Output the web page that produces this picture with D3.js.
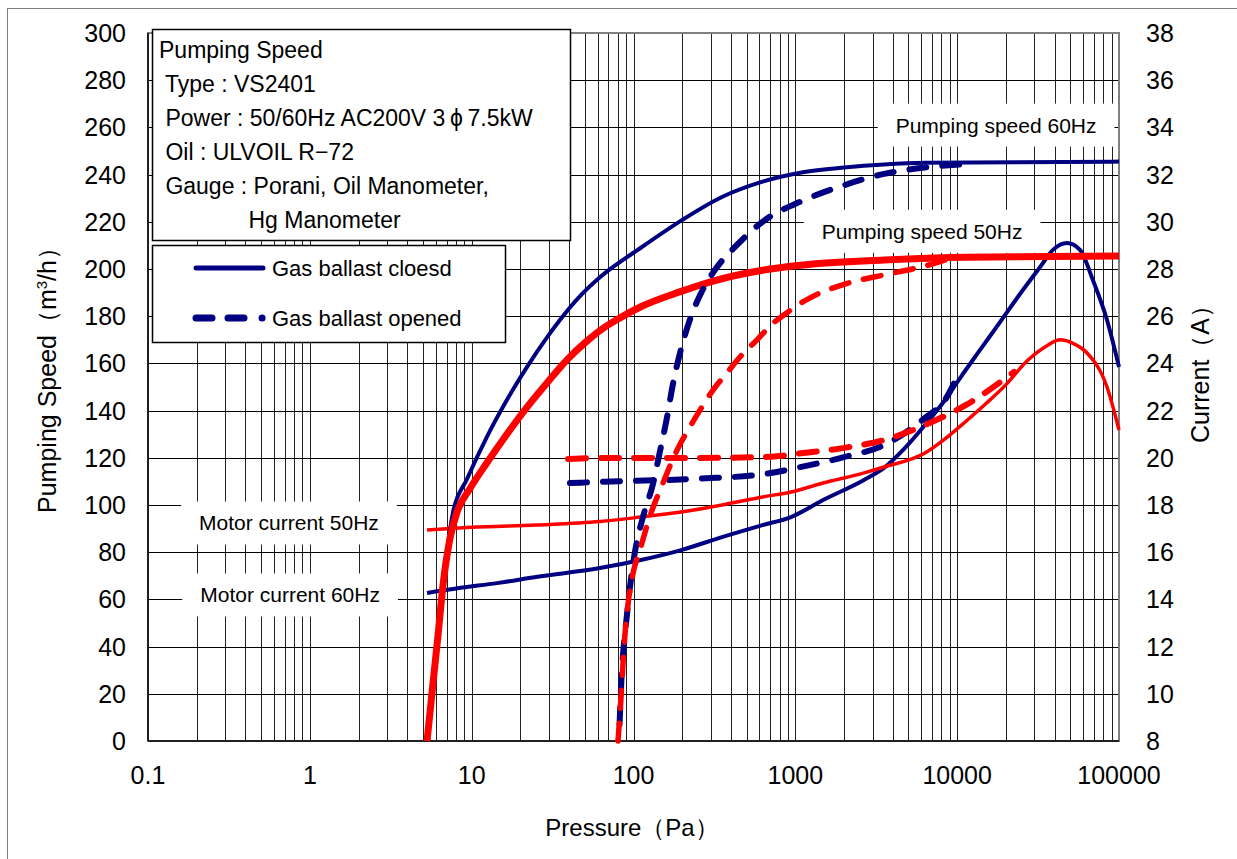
<!DOCTYPE html>
<html>
<head>
<meta charset="utf-8">
<script src="https://cdn.jsdelivr.net/npm/d3@7"></script>
<style>
	body { margin: 0; background: #fff; }
	svg { display: block; }
	text { font-family: "Liberation Sans", Arial, sans-serif; fill: #000; }
	.tick-label { font-size: 25px; }
	.axis-title { font-size: 24px; }
	.box-text { font-size: 23px; }
	.legend-text { font-size: 22px; }
	.label-text { font-size: 21px; }
</style>
</head>
<body>
<div id="chart"></div>
<script>
// pressure (Pa) / pumping speed (m3/h) pairs
const speed60Closed = [
	[5.3, 0], [5.9, 30], [6.5, 58], [7.1, 82], [7.67, 97], [9.36, 111], [12.4, 128.8], [16.5, 144.5],
	[22, 158.5], [29.2, 171], [35.2, 178.5], [46.7, 188.5], [62, 196.5], [111, 209], [197, 220.5],
	[352, 230.5], [627, 237], [1115, 241], [2000, 243], [3530, 244.3], [6325, 245], [100000, 245.5]
];
const speed60Opened = [
	[82, 7], [84.5, 28], [87.5, 42], [90, 50], [95, 65], [102, 80], [114.5, 95], [132, 109],
	[146, 123], [161, 137], [175, 151], [194, 164.5], [223, 178.5], [258, 189], [297, 196.5],
	[357, 204], [412, 208.5], [627, 220], [1115, 229], [2000, 235.5], [3530, 240.3], [6325, 243],
	[11340, 244.5]
];
const speed50Closed = [
	[5.3, 0], [5.8, 26], [6.2, 45], [6.65, 66], [7.35, 86], [8.12, 97], [9.77, 107], [12.4, 117.8],
	[16.5, 130], [22, 141.5], [29.2, 151.7], [38.8, 161.5], [51.6, 169.5], [68.6, 176], [82.6, 179.3],
	[111, 184], [197, 190.5], [314, 195], [627, 199.5], [1115, 201.7], [3530, 203.8], [11340, 205],
	[100000, 205.5]
];
const speed50Opened = [
	[80.2, 0], [84, 20], [87.4, 40], [92.5, 58], [100, 72], [109.6, 81], [126, 95], [152, 109.3],
	[186, 123.3], [223, 133], [258, 140.3], [310, 148.7], [378, 156], [455, 162.7], [580, 170],
	[728, 177], [889, 181.5], [1024, 184.5], [1250, 188], [2000, 193.5], [3530, 197.5],
	[5650, 200.5], [8410, 203.8], [8910, 204.5]
];
// pressure (Pa) / motor current (A) pairs
const current60Closed = [
	[5.3, 14.27], [8.35, 14.48], [14.35, 14.69], [25, 14.95], [62, 15.33], [111, 15.67], [197, 16.09],
	[352, 16.64], [627, 17.15], [940, 17.49], [1483, 18.21], [2657, 19.06], [3530, 19.57],
	[4763, 20.42], [6325, 21.39], [8410, 22.45], [10420, 23.38], [13850, 24.57], [18400, 25.75],
	[24440, 26.94], [32500, 28.08], [39100, 28.81], [47700, 29.1], [57400, 28.81], [69000, 27.53],
	[84300, 25.84], [100000, 23.85]
];
const current60Opened = [
	[40.5, 18.93], [62, 18.98], [258, 19.12], [627, 19.3], [1065, 19.6], [2000, 20.03],
	[3530, 20.54], [6325, 21.69], [8410, 22.45], [9980, 23.42]
];
const current50Closed = [
	[5.3, 16.94], [8.35, 17.03], [25, 17.15], [62, 17.3], [111, 17.49], [197, 17.7], [352, 18],
	[627, 18.34], [940, 18.55], [1483, 18.93], [2657, 19.36], [3530, 19.61], [6325, 20.2],
	[8410, 20.8], [11340, 21.55], [15080, 22.3], [20040, 23.1], [27000, 24.1], [35900, 24.75],
	[43200, 25.0], [52000, 24.85], [63500, 24.44], [84300, 23.0], [100000, 21.18]
];
const current50Opened = [
	[39.4, 19.95], [62, 19.99], [197, 19.99], [627, 20.03], [1115, 20.2], [2000, 20.42],
	[3530, 20.75], [6325, 21.39], [11340, 22.24], [22450, 23.64]
];

const xTicks = [0.1, 1, 10, 100, 1000, 10000, 100000];
const xTickLabels = ["0.1", "1", "10", "100", "1000", "10000", "100000"];
const leftTicks = d3.range(0, 301, 20);
const rightTicks = d3.range(8, 39, 2);
const infoLines = [
	"Pumping Speed",
	" Type : VS2401",
	" Power : 50/60Hz AC200V 3\u2009\u03d5\u20097.5kW",
	" Oil : ULVOIL R\u221272",
	" Gauge : Porani, Oil Manometer,",
	"              Hg Manometer"
];
const legendItems = ["Gas ballast cloesd", "Gas ballast opened"];
// annotation labels: [text, pressure, speed]
const annotations = [
	["Pumping speed 60Hz", 17400, 261],
	["Pumping speed 50Hz", 6070, 216],
	["Motor current 50Hz", 0.743, 92.4],
	["Motor current 60Hz", 0.755, 61.9]
];

const width = 1237, height = 859;
const plot = { left: 148, right: 1119, top: 33, bottom: 741 };
const navy = "#000080", red = "#ff0000";

const svg = d3.select("#chart").append("svg")
	.attr("width", width)
	.attr("height", height);

// outer chart frame
svg.append("rect")
	.attr("x", 7.5).attr("y", 8.5)
	.attr("width", width).attr("height", height)
	.attr("fill", "none")
	.attr("stroke", "#808080")
	.attr("stroke-width", 1);

const x = d3.scaleLog().domain([0.1, 100000]).range([plot.left, plot.right]);
const yL = d3.scaleLinear().domain([0, 300]).range([plot.bottom, plot.top]);
const yR = d3.scaleLinear().domain([8, 38]).range([plot.bottom, plot.top]);

// grid
const grid = svg.append("g");
const minorX = [];
for (let e = -1; e < 5; e++)
	for (let m = 1; m < 10; m++)
		minorX.push(m * Math.pow(10, e));
minorX.push(100000);
grid.selectAll("line.vx")
	.data(minorX)
	.enter().append("line")
	.attr("x1", d => Math.round(x(d)) + 0.5)
	.attr("x2", d => Math.round(x(d)) + 0.5)
	.attr("y1", plot.top).attr("y2", plot.bottom)
	.attr("stroke", "#222")
	.attr("stroke-width", 1);
grid.selectAll("line.hy")
	.data(leftTicks)
	.enter().append("line")
	.attr("x1", plot.left).attr("x2", plot.right)
	.attr("y1", d => Math.round(yL(d)) + 0.5)
	.attr("y2", d => Math.round(yL(d)) + 0.5)
	.attr("stroke", "#000")
	.attr("stroke-width", 1);

// plot border
svg.append("rect")
	.attr("x", plot.left).attr("y", plot.top)
	.attr("width", plot.right - plot.left)
	.attr("height", plot.bottom - plot.top)
	.attr("fill", "none")
	.attr("stroke", "#808080")
	.attr("stroke-width", 2);
svg.append("line")
	.attr("x1", plot.left).attr("x2", plot.left)
	.attr("y1", plot.top).attr("y2", plot.bottom)
	.attr("stroke", "#000").attr("stroke-width", 1.5);
svg.append("line")
	.attr("x1", plot.left).attr("x2", plot.right)
	.attr("y1", plot.bottom).attr("y2", plot.bottom)
	.attr("stroke", "#000").attr("stroke-width", 1.5);

// axes labels
svg.selectAll("text.yl")
	.data(leftTicks)
	.enter().append("text")
	.classed("tick-label", true)
	.attr("x", 126)
	.attr("y", d => yL(d))
	.attr("dy", "0.36em")
	.attr("text-anchor", "end")
	.text(d => d);
svg.selectAll("text.yr")
	.data(rightTicks)
	.enter().append("text")
	.classed("tick-label", true)
	.attr("x", 1146)
	.attr("y", d => yR(d))
	.attr("dy", "0.36em")
	.text(d => d);
svg.selectAll("text.xl")
	.data(xTicks)
	.enter().append("text")
	.classed("tick-label", true)
	.attr("x", d => x(d))
	.attr("y", 775)
	.attr("dy", "0.36em")
	.attr("text-anchor", "middle")
	.text((d, i) => xTickLabels[i]);

svg.append("text")
	.classed("axis-title", true)
	.attr("x", 632).attr("y", 836)
	.attr("text-anchor", "middle")
	.text("Pressure\uff08Pa\uff09");
const yTitle = svg.append("text")
	.classed("axis-title", true)
	.style("font-size", "25px")
	.attr("text-anchor", "middle")
	.attr("transform", "translate(56,374) rotate(-90)");
yTitle.append("tspan").text("Pumping Speed\uff08m");
yTitle.append("tspan").attr("font-size", "15px").attr("dy", "-9").text("3");
yTitle.append("tspan").attr("dy", "9").text("/h\uff09");
svg.append("text")
	.classed("axis-title", true)
	.style("font-size", "25px")
	.attr("text-anchor", "middle")
	.attr("transform", "translate(1209,368) rotate(-90)")
	.text("Current\uff08A\uff09");

// annotation labels on white boxes
const annG = svg.append("g");
annotations.forEach(([label, p, s]) => {
	const g = annG.append("g");
	const t = g.append("text")
		.classed("label-text", true)
		.attr("x", x(p)).attr("y", yL(s))
		.attr("dy", "0.36em")
		.attr("text-anchor", "middle")
		.text(label);
	const bb = t.node().getBBox();
	g.insert("rect", "text")
		.attr("x", bb.x - 18).attr("y", bb.y - 10)
		.attr("width", bb.width + 36).attr("height", bb.height + 20)
		.attr("fill", "#fff");
});

// curves
const lineSpeed = d3.line()
	.x(d => x(d[0])).y(d => yL(d[1]))
	.curve(d3.curveMonotoneX);
const lineCurrent = d3.line()
	.x(d => x(d[0])).y(d => yR(d[1]))
	.curve(d3.curveMonotoneX);

const curves = [
	{ data: current60Closed, line: lineCurrent, color: navy, w: 4, dash: null },
	{ data: current50Closed, line: lineCurrent, color: red, w: 3.5, dash: null },
	{ data: current60Opened, line: lineCurrent, color: navy, w: 6, dash: "17,16" },
	{ data: current50Opened, line: lineCurrent, color: red, w: 6, dash: "18,15" },
	{ data: speed60Closed, line: lineSpeed, color: navy, w: 4, dash: null },
	{ data: speed50Closed, line: lineSpeed, color: red, w: 7, dash: null },
	{ data: speed60Opened, line: lineSpeed, color: navy, w: 6, dash: "17,16" },
	{ data: speed50Opened, line: lineSpeed, color: red, w: 5.5, dash: "18,15" }
];
svg.append("g")
	.selectAll("path")
	.data(curves)
	.enter().append("path")
	.attr("d", c => c.line(c.data))
	.attr("fill", "none")
	.attr("stroke", c => c.color)
	.attr("stroke-width", c => c.w)
	.attr("stroke-dasharray", c => c.dash)
	.attr("stroke-linecap", c => c.dash ? "round" : "butt")
	.attr("stroke-linejoin", "round");

// info box
svg.append("rect")
	.attr("x", 152.5).attr("y", 29.5)
	.attr("width", 418).attr("height", 211)
	.attr("fill", "#fff")
	.attr("stroke", "#000")
	.attr("stroke-width", 1.5);
svg.append("g")
	.selectAll("text")
	.data(infoLines)
	.enter().append("text")
	.classed("box-text", true)
	.attr("x", 159)
	.attr("y", (d, i) => 50 + i * 34)
	.attr("dy", "0.36em")
	.attr("xml:space", "preserve")
	.style("white-space", "pre")
	.text(d => d);

// legend
svg.append("rect")
	.attr("x", 152.5).attr("y", 245.5)
	.attr("width", 353).attr("height", 97)
	.attr("fill", "#fff")
	.attr("stroke", "#000")
	.attr("stroke-width", 1.5);
const legend = svg.append("g")
	.selectAll("g")
	.data(legendItems)
	.enter().append("g")
	.attr("transform", (d, i) => "translate(0," + (268 + i * 50) + ")");
legend.append("line")
	.attr("x1", 196).attr("x2", 263)
	.attr("stroke", navy)
	.attr("stroke-width", (d, i) => i == 0 ? 5 : 7)
	.attr("stroke-linecap", "round")
	.attr("stroke-dasharray", (d, i) => i == 0 ? null : "16,16,16,18,0.1,100");
legend.append("text")
	.classed("legend-text", true)
	.attr("x", 272)
	.attr("dy", "0.36em")
	.text(d => d);
</script>
</body>
</html>
